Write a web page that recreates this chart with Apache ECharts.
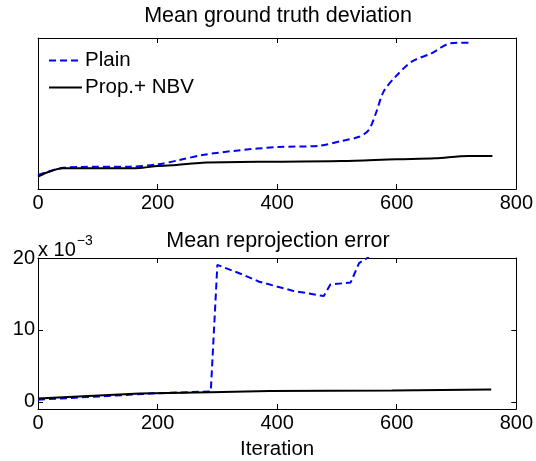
<!DOCTYPE html>
<html><head><meta charset="utf-8">
<script src="https://cdn.jsdelivr.net/npm/echarts@6/dist/echarts.min.js"></script>
<style>html,body{margin:0;padding:0;background:#fff}#c{width:536px;height:461px}</style>
</head><body><div id="c"></div>
<script>
// Top panel: Mean ground truth deviation (arbitrary units, no tick labels)
const plainTopIter = [0, 42, 70, 153, 200, 237, 275, 331, 402, 470, 508, 537, 553, 565, 578, 598, 625, 658, 690, 720];
const plainTopVal  = [9.3, 14.1, 14.6, 14.8, 16.3, 19.2, 22.5, 25.4, 27.8, 28.6, 31.8, 34.6, 39.0, 50.0, 64.5, 74.4, 84.3, 89.8, 96.5, 96.9];
const nbvTopIter = [0, 14, 42, 153, 175, 200, 232, 275, 402, 508, 600, 664, 720, 760];
const nbvTopVal  = [8.2, 10.8, 13.7, 13.7, 14.1, 15.2, 15.9, 17.4, 18.1, 18.5, 19.7, 20.3, 21.8, 21.8];
// Bottom panel: Mean reprojection error (x 10^-3)
const plainBotIter = [0, 103, 187, 289, 300, 342, 370, 426, 478, 489, 523, 537, 551, 565];
const plainBotVal  = [0.3, 0.75, 1.15, 1.45, 19.05, 17.7, 16.7, 15.45, 14.7, 16.3, 16.6, 19.3, 20.0, 21.5];
const nbvBotIter = [0, 76, 170, 289, 387, 592, 758];
const nbvBotVal  = [0.46, 0.78, 1.15, 1.33, 1.5, 1.57, 1.7];
const xTicks = [0, 200, 400, 600, 800];
const yTicksBot = [0, 10, 20];
const seriesNames = ['Plain', 'Prop.+ NBV'];
const titles = ['Mean ground truth deviation', 'Mean reprojection error'];

const zip = (a, b) => a.map((v, i) => [v, b[i]]);
const FONT = 'Liberation Sans, Arial, Helvetica, sans-serif';
const chart = echarts.init(document.getElementById('c'));

function xAx(grid, pos, labels) {
  return {
    type: 'value', gridIndex: grid, position: pos, min: 0, max: 800, interval: 200,
    axisLine: { show: true, onZero: false, lineStyle: { color: '#000', width: 1 } },
    axisTick: { show: true, inside: true, length: 5, lineStyle: { color: '#000' }, customValues: xTicks },
    axisLabel: { show: labels, color: '#000', fontSize: 20, fontFamily: FONT, margin: 4, customValues: xTicks },
    splitLine: { show: false }
  };
}
function yAx(grid, pos, min, max, ticks, labels) {
  const o = {
    type: 'value', gridIndex: grid, position: pos, min: min, max: max,
    axisLine: { show: true, onZero: false, lineStyle: { color: '#000', width: 1 } },
    axisTick: { show: !!ticks, inside: true, length: 5, lineStyle: { color: '#000' } },
    axisLabel: { show: labels, color: '#000', fontSize: 20, fontFamily: FONT, margin: 3 },
    splitLine: { show: false }
  };
  if (ticks) {
    o.axisTick.customValues = ticks;
    o.axisLabel.customValues = ticks;
  }
  return o;
}
const plainStyle = { color: '#0000ff', width: 2, type: [7, 4] };
const nbvStyle = { color: '#000', width: 2, type: 'solid' };

chart.setOption({
  animation: false,
  backgroundColor: '#fff',
  grid: [
    { left: 38, top: 38, width: 480, height: 151 },
    { left: 38, top: 258, width: 480, height: 151 }
  ],
  xAxis: [
    xAx(0, 'bottom', true), xAx(0, 'top', false),
    Object.assign(xAx(1, 'bottom', true), { name: 'Iteration', nameLocation: 'middle', nameGap: 30,
      nameTextStyle: { fontSize: 20.5, color: '#000', fontFamily: FONT } }),
    xAx(1, 'top', false)
  ],
  yAxis: [
    yAx(0, 'left', 0, 100, null, false), yAx(0, 'right', 0, 100, null, false),
    yAx(1, 'left', -1, 20, yTicksBot, true), yAx(1, 'right', -1, 20, yTicksBot, false)
  ],
  legend: {
    data: seriesNames, orient: 'vertical', left: 48, top: 50, padding: 0, itemWidth: 33, itemHeight: 14, itemGap: 6,
    textStyle: { fontSize: 20.5, color: '#000', fontFamily: FONT, padding: [0, 0, 0, -2] },
    itemStyle: { opacity: 0 }
  },
  graphic: [
    { type: 'text', x: 278, y: 5, style: { text: titles[0], textAlign: 'center', textVerticalAlign: 'top', fill: '#000', fontSize: 21.5, fontFamily: FONT } },
    { type: 'text', x: 278, y: 230, style: { text: titles[1], textAlign: 'center', textVerticalAlign: 'top', fill: '#000', fontSize: 21.5, fontFamily: FONT } },
    {
      type: 'text', left: 38, top: 234,
      style: {
        text: '{a|x 10}{b|−3}', fill: '#000',
        rich: { a: { fontSize: 20, fontFamily: FONT, verticalAlign: 'bottom' }, b: { fontSize: 14, fontFamily: FONT, verticalAlign: 'top', padding: [0, 0, 12, 1] } }
      }
    }
  ],
  series: [
    { name: seriesNames[0], type: 'line', xAxisIndex: 0, yAxisIndex: 0, data: zip(plainTopIter, plainTopVal), showSymbol: false, symbol: 'none', smooth: 0.3, lineStyle: plainStyle, itemStyle: { color: '#0000ff' } },
    { name: seriesNames[1], type: 'line', xAxisIndex: 0, yAxisIndex: 0, data: zip(nbvTopIter, nbvTopVal), showSymbol: false, symbol: 'none', smooth: 0.3, lineStyle: nbvStyle, itemStyle: { color: '#000' } },
    { name: seriesNames[0] + ' ', type: 'line', xAxisIndex: 2, yAxisIndex: 2, data: zip(plainBotIter, plainBotVal), showSymbol: false, symbol: 'none', lineStyle: plainStyle, clip: true },
    { name: seriesNames[1] + ' ', type: 'line', xAxisIndex: 2, yAxisIndex: 2, data: zip(nbvBotIter, nbvBotVal), showSymbol: false, symbol: 'none', lineStyle: nbvStyle, clip: true }
  ]
});
</script></body></html>
